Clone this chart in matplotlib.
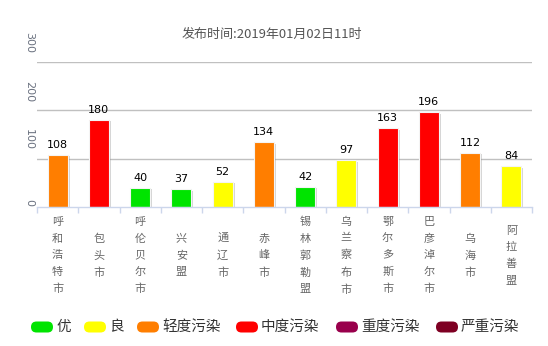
import matplotlib
matplotlib.use("Agg")
import matplotlib.pyplot as plt
import matplotlib.patheffects as pe
from matplotlib.patches import FancyBboxPatch
import numpy as np

plt.rcParams['font.family'] = ['Noto Sans CJK SC', 'DejaVu Sans']

title = "发布时间:2019年01月02日11时"
cities = ["呼和浩特市", "包头市", "呼伦贝尔市", "兴安盟", "通辽市", "赤峰市",
          "锡林郭勒盟", "乌兰察布市", "鄂尔多斯市", "巴彦淖尔市", "乌海市", "阿拉善盟"]
aqi = [108, 180, 40, 37, 52, 134, 42, 97, 163, 196, 112, 84]
levels = ["优", "良", "轻度污染", "中度污染", "重度污染", "严重污染"]
level_upper = [50, 100, 150, 200, 300, 500]
level_colors = ["#00e400", "#ffff00", "#ff7e00", "#ff0000", "#99004c", "#7e0023"]
yticks = [0, 100, 200, 300]

def color_for(v):
    for up, c in zip(level_upper, level_colors):
        if v <= up:
            return c
    return level_colors[-1]

W, H = 548, 346
fig = plt.figure(figsize=(W / 100, H / 100), dpi=100)
ax = fig.add_axes([37 / W, (H - 207) / H, (532 - 37) / W, (207 - 62) / H])

x = np.arange(len(cities))
bars = ax.bar(x, aqi, width=0.48, color=[color_for(v) for v in aqi],
              edgecolor="#f4f4f4", linewidth=0.8, zorder=3)
for b in bars:
    b.set_path_effects([pe.SimplePatchShadow(offset=(1.5, -1), shadow_rgbFace="#888888", alpha=0.35),
                        pe.Normal()])
for xi, v in zip(x, aqi):
    ax.annotate(str(v), (xi, v), xytext=(0, 5), textcoords="offset pixels",
                ha="center", va="bottom", fontsize=8, color="#000000", zorder=4,
                family="DejaVu Sans")

ax.set_xlim(-0.5, len(cities) - 0.5)
ax.set_ylim(0, 300)
for s in ["left", "right", "top"]:
    ax.spines[s].set_visible(False)
ax.spines["bottom"].set_color("#ccd6eb")
ax.spines["bottom"].set_linewidth(1)
ax.spines["bottom"].set_zorder(5)

for yv in yticks[1:]:
    ax.axhline(yv, color="#c0c0c0", linewidth=1, zorder=1)

ax.set_yticks([])
for yv in yticks:
    off = 4.5 if yv == 0 else 19
    ax.annotate(str(yv), (0, yv), xycoords=("axes fraction", "data"),
                xytext=(-8, off), textcoords="offset pixels", rotation=-90,
                ha="center", va="center", fontsize=8, color="#6b7280",
                family="DejaVu Sans")

ax.set_xticks(x)
ax.set_xticklabels(["\n".join(c) for c in cities], fontsize=8, color="#666666",
                   linespacing=1.8)
ax.tick_params(axis="x", which="major", length=0, pad=35)
for lab in ax.get_xticklabels():
    lab.set_va("center")
ax.set_xticks(np.arange(len(cities) + 1) - 0.5, minor=True)
ax.tick_params(axis="x", which="minor", length=4, color="#ccd6eb", width=1)

fig.text(272 / W, 1 - 34 / H, title, ha="center", va="center", fontsize=9.4, color="#555555")

# legend
lax = fig.add_axes([0, 0, 1, 1])
lax.set_xlim(0, W)
lax.set_ylim(H, 0)
lax.axis("off")
pill_x = [31, 84, 137, 236, 336, 436]
for px, name, c in zip(pill_x, levels, level_colors):
    lax.add_patch(FancyBboxPatch((px, 321.5), 22, 11,
                                 boxstyle="round,pad=0,rounding_size=5.5",
                                 facecolor=c, edgecolor="none"))
    lax.text(px + 25, 327, name, ha="left", va="center", fontsize=10.5, color="#333333")

fig.savefig("out.png", dpi=100)
